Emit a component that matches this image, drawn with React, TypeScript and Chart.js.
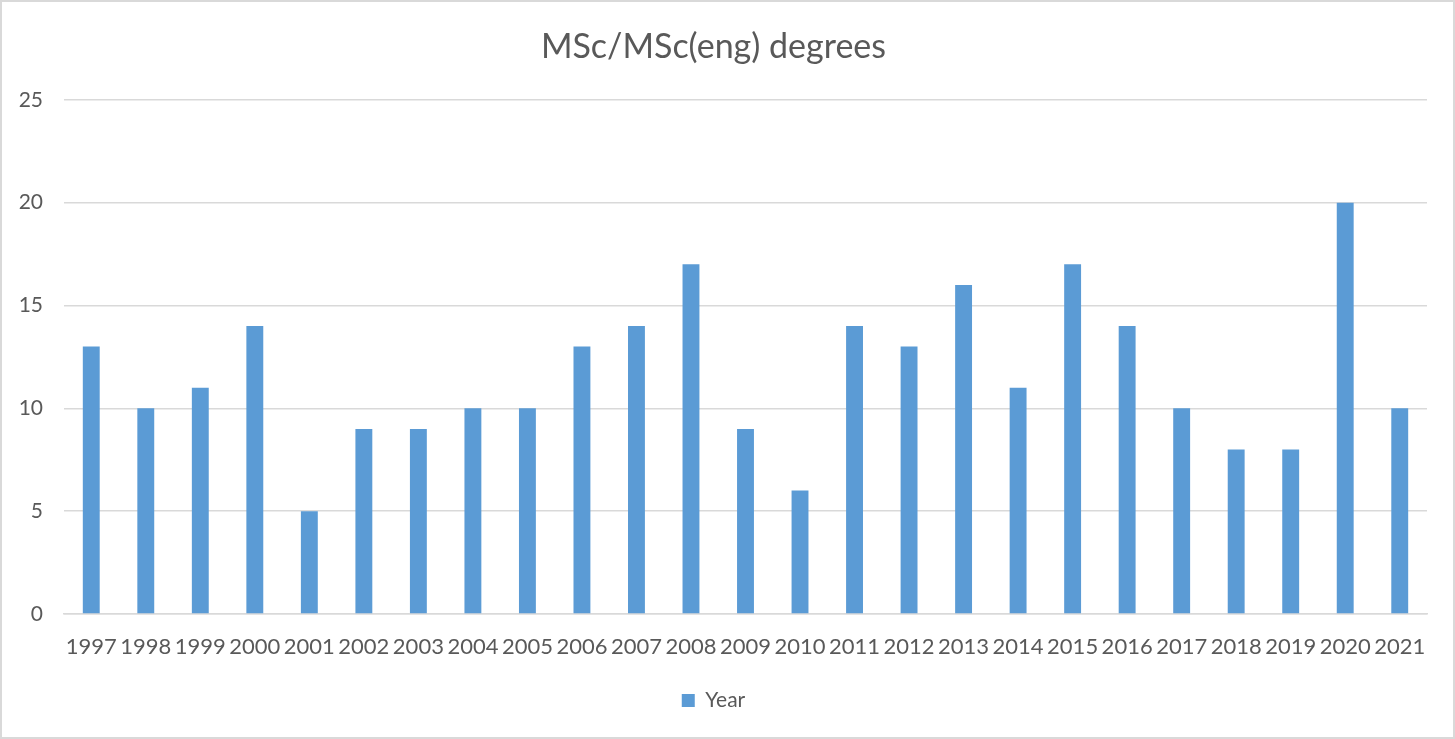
import React, { useEffect, useRef } from "react";
import { Chart, registerables } from "chart.js";

Chart.register(...registerables);

const years = [
  "1997", "1998", "1999", "2000", "2001", "2002", "2003", "2004", "2005", "2006",
  "2007", "2008", "2009", "2010", "2011", "2012", "2013", "2014", "2015", "2016",
  "2017", "2018", "2019", "2020", "2021",
];
const degrees = [13, 10, 11, 14, 5, 9, 9, 10, 10, 13, 14, 17, 9, 6, 14, 13, 16, 11, 17, 14, 10, 8, 8, 20, 10];
const seriesLabel = "Year";
const chartTitle = "MSc/MSc(eng) degrees";

const FONT = "Lato, 'Open Sans', sans-serif";
const TEXT = "#595959";
const GRID = "#d9d9d9";
const BAR = "#5B9BD5";

const borderPlugin = {
  id: "outerBorder",
  beforeDraw(chart: any) {
    const { ctx, width, height } = chart;
    ctx.save();
    ctx.fillStyle = "#ffffff";
    ctx.fillRect(0, 0, width, height);
    ctx.strokeStyle = "#d9d9d9";
    ctx.lineWidth = 2;
    ctx.strokeRect(1, 1, width - 2, height - 2);
    ctx.restore();
  },
};

export default function App() {
  const ref = useRef<HTMLCanvasElement | null>(null);
  useEffect(() => {
    if (!ref.current) return;
    const chart = new Chart(ref.current, {
      type: "bar",
      data: {
        labels: years,
        datasets: [
          {
            label: seriesLabel,
            data: degrees,
            backgroundColor: BAR,
            borderWidth: 0,
            barPercentage: 0.31,
            categoryPercentage: 1,
          },
        ],
      },
      plugins: [borderPlugin],
      options: {
        animation: false,
        responsive: false,
        maintainAspectRatio: false,
        layout: { padding: { left: 0, right: 28, top: 0, bottom: 18 } },
        plugins: {
          title: {
            display: true,
            text: chartTitle,
            color: TEXT,
            font: { family: FONT, size: 34, weight: "normal" },
            padding: { top: 27, bottom: 32 },
          },
          legend: {
            display: true,
            position: "bottom",
            labels: {
              color: TEXT,
              font: { family: FONT, size: 21 },
              boxWidth: 13,
              boxHeight: 13,
              padding: 10,
            },
          },
          tooltip: { enabled: false },
        },
        scales: {
          x: {
            grid: { display: false, drawTicks: false },
            border: { display: true, color: GRID, width: 1.5 },
            ticks: {
              color: TEXT,
              font: { family: FONT, size: 22 },
              padding: 20,
              maxRotation: 0,
              autoSkip: false,
            },
            afterFit(axis: any) {
              axis.height = 66;
            },
          },
          y: {
            min: 0,
            max: 25,
            grid: { color: GRID, lineWidth: 1.5, drawTicks: false },
            border: { display: false },
            ticks: {
              stepSize: 5,
              color: TEXT,
              font: { family: FONT, size: 21 },
              padding: 21,
            },
            afterFit(axis: any) {
              axis.width = 64;
            },
          },
        },
      },
    });
    return () => chart.destroy();
  }, []);
  return (
    <div style={{ position: "fixed", left: 0, top: 0, width: 1455, height: 739, background: "#fff" }}>
      <canvas ref={ref} width={1455} height={739} style={{ display: "block", width: 1455, height: 739 }} />
    </div>
  );
}
